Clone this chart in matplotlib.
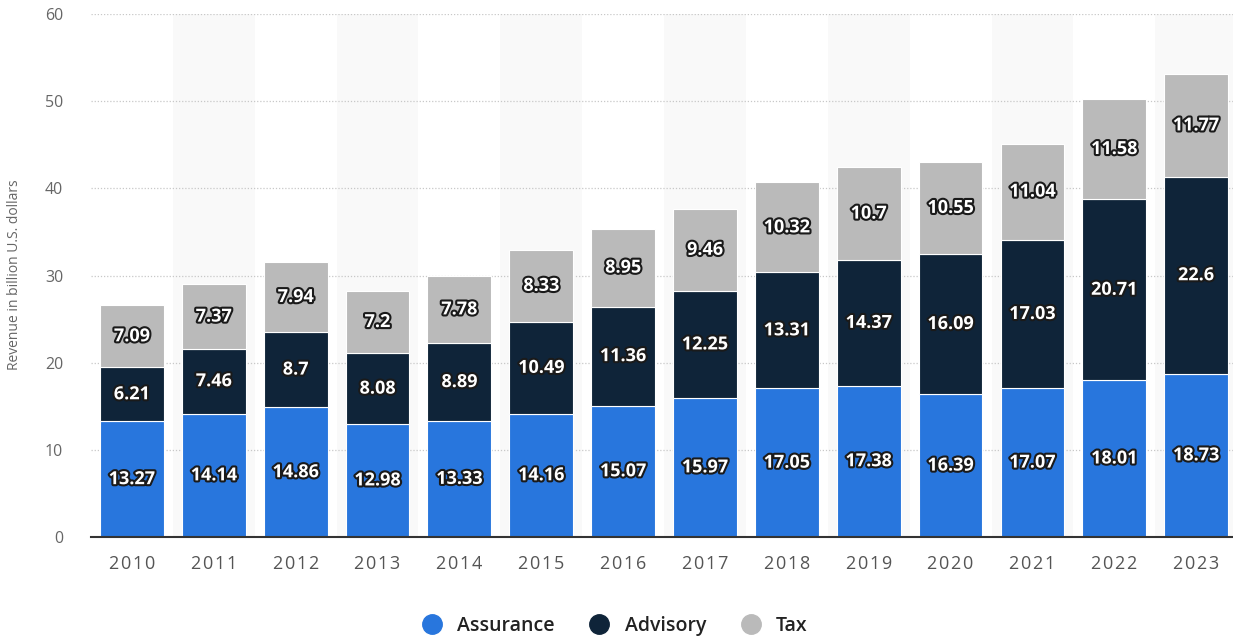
import matplotlib
matplotlib.use("Agg")
import matplotlib.pyplot as plt
import matplotlib.patheffects as pe
from matplotlib.lines import Line2D
import numpy as np

plt.rcParams['font.family'] = ['Open Sans', 'DejaVu Sans']

years = ['2010', '2011', '2012', '2013', '2014', '2015', '2016',
         '2017', '2018', '2019', '2020', '2021', '2022', '2023']
assurance = [13.27, 14.14, 14.86, 12.98, 13.33, 14.16, 15.07,
             15.97, 17.05, 17.38, 16.39, 17.07, 18.01, 18.73]
advisory = [6.21, 7.46, 8.7, 8.08, 8.89, 10.49, 11.36,
            12.25, 13.31, 14.37, 16.09, 17.03, 20.71, 22.6]
tax = [7.09, 7.37, 7.94, 7.2, 7.78, 8.33, 8.95,
       9.46, 10.32, 10.7, 10.55, 11.04, 11.58, 11.77]
series_names = ['Assurance', 'Advisory', 'Tax']
colors = ['#2876dd', '#0f2439', '#bababa']

fig = plt.figure(figsize=(12.33, 6.36), dpi=100)
ax = fig.add_axes([91/1233, 1 - 537/636, 1 - 91/1233, (537 - 14)/636])

x = np.arange(len(years))
ax.set_xlim(-0.5, len(years) - 0.55)
ax.set_ylim(0, 60)

# alternating background bands
for i in x:
    if i % 2 == 1:
        ax.axvspan(i - 0.5, i + 0.5, color='#f9f9f9', zorder=0, lw=0)

ax.set_yticks([0, 10, 20, 30, 40, 50, 60])
for yv in [10, 20, 30, 40, 50, 60]:
    ax.axhline(yv, color='#c8c8c8', lw=0.9, ls=(0, (1, 1.5)), zorder=1)

width = 0.78
bottom = np.zeros(len(years))
stroke = [pe.withStroke(linewidth=3, foreground='#1a1a1a')]
for vals, col in zip([assurance, advisory, tax], colors):
    vals = np.array(vals)
    ax.bar(x, vals, width, bottom=bottom, color=col, edgecolor='white',
           linewidth=0.8, zorder=2)
    for xi, b, v in zip(x, bottom, vals):
        ax.text(xi, b + v / 2, f'{v:g}', ha='center', va='center',
                color='white', fontsize=13, fontweight='bold',
                path_effects=stroke, zorder=5)
    bottom = bottom + vals

for s in ['top', 'right', 'left']:
    ax.spines[s].set_visible(False)
ax.spines['bottom'].set_color('#333333')
ax.spines['bottom'].set_linewidth(1.5)
ax.spines['bottom'].set_zorder(6)

ax.set_xticks(x)
ax.set_xticklabels(['\u200a'.join(y) for y in years])
ax.tick_params(axis='x', length=0, pad=13, labelsize=13, labelcolor='#555555')
ax.tick_params(axis='y', length=0, pad=20, labelsize=11.5, labelcolor='#666666')
for lbl in ax.get_yticklabels():
    lbl.set_horizontalalignment('right')

fig.text(15/1233, 1 - 275/636, 'Revenue in billion U.S. dollars', rotation=90,
         ha='center', va='center', fontsize=10, color='#666666')

handles = [Line2D([0], [0], marker='o', color='none', markerfacecolor=c,
                  markeredgecolor=c, markersize=14) for c in colors]
leg = fig.legend(handles, series_names, loc='center', bbox_to_anchor=(610/1233, 1 - 626/636),
                 ncol=3, frameon=False, fontsize=14, labelcolor='#222222',
                 handletextpad=0.3, columnspacing=1.3)
for t in leg.get_texts():
    t.set_fontweight('semibold')

fig.savefig('out.png', dpi=100)
